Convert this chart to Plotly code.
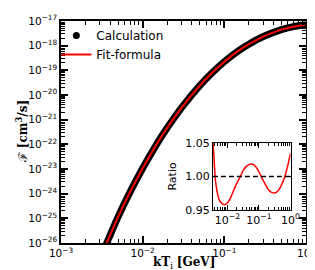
import plotly.graph_objects as go

# ---- data ----
kT_calc = [0.0035, 0.0038, 0.005, 0.007, 0.01, 0.015, 0.02, 0.03, 0.05, 0.07,
           0.1, 0.15, 0.2, 0.3, 0.5, 0.7, 1.0]
F_calc = [7.6e-27, 1.41e-26, 1.15e-25, 1.15e-24, 1.07e-23, 1.07e-22, 4.68e-22,
          3.09e-21, 2.40e-20, 7.59e-20, 2.24e-19, 6.31e-19, 1.15e-18, 2.34e-18,
          4.47e-18, 5.89e-18, 7.08e-18]
kT_fit = [0.0035, 0.0038, 0.005, 0.007, 0.01, 0.015, 0.02, 0.03, 0.05, 0.07,
          0.1, 0.15, 0.2, 0.3, 0.5, 0.7, 1.0]
F_fit = [7.6e-27, 1.41e-26, 1.15e-25, 1.15e-24, 1.07e-23, 1.07e-22, 4.68e-22,
         3.09e-21, 2.40e-20, 7.59e-20, 2.24e-19, 6.31e-19, 1.15e-18, 2.34e-18,
         4.47e-18, 5.89e-18, 7.08e-18]

kT_ratio = [0.00347, 0.0038, 0.00407, 0.00468, 0.00562, 0.00676, 0.00813, 0.01,
            0.0126, 0.0158, 0.02, 0.0257, 0.0316, 0.0398, 0.05, 0.0575, 0.0708,
            0.0891, 0.117, 0.158, 0.2, 0.251, 0.316, 0.398, 0.501, 0.661, 0.794, 1.0]
ratio = [1.052, 1.025, 1.000, 0.978, 0.964, 0.959, 0.9576, 0.960, 0.968, 0.979,
         0.990, 1.000, 1.009, 1.015, 1.018, 1.0186, 1.017, 1.011, 1.000, 0.988,
         0.980, 0.976, 0.975, 0.978, 0.986, 1.000, 1.014, 1.035]

x_ticks = [1e-3, 1e-2, 1e-1, 1e0]
x_ticktext = ["10<sup>−3</sup>", "10<sup>−2</sup>", "10<sup>−1</sup>", "10<sup>0</sup>"]
y_ticks = [10.0 ** e for e in range(-26, -16)]
y_ticktext = ["10<sup>−%d</sup>" % (-e) for e in range(-26, -16)]
ix_ticks = [1e-2, 1e-1, 1e0]
ix_ticktext = ["10<sup>−2</sup>", "10<sup>−1</sup>", "10<sup>0</sup>"]
iy_ticks = [0.95, 1.00, 1.05]
iy_ticktext = ["0.95", "1.00", "1.05"]
x_title = "<b>kT</b><sub>i</sub> <b>[GeV]</b>"
y_title = "ℱ <b>[cm<sup>3</sup>/s]</b>"

FONT = "DejaVu Sans"

def minor_vals(e0, e1):
    return [k * 10.0 ** e for e in range(e0, e1) for k in range(2, 10)]

fig = go.Figure()

# calculation (dense dots -> thick black band)
fig.add_trace(go.Scatter(x=kT_calc, y=F_calc, mode="lines",
                         line=dict(color="black", width=7, shape="spline"),
                         showlegend=False, hoverinfo="skip"))
fig.add_trace(go.Scatter(x=[None], y=[None], mode="markers", name="Calculation",
                         marker=dict(color="black", size=7)))
fig.add_trace(go.Scatter(x=kT_fit, y=F_fit, mode="lines", name="Fit-formula",
                         line=dict(color="red", width=2, shape="spline")))

# inset
fig.add_trace(go.Scatter(x=kT_ratio, y=ratio, mode="lines", xaxis="x2", yaxis="y2",
                         line=dict(color="red", width=1.5, shape="spline"),
                         showlegend=False))
fig.add_shape(type="line", xref="x2 domain", x0=0, x1=1, yref="y2", y0=1, y1=1,
              line=dict(color="black", width=1.5, dash="5px,3px"))

# axis titles
fig.add_annotation(text=x_title, xref="paper", yref="paper", x=0.5, y=-0.088,
                   xanchor="center", yanchor="middle", showarrow=False,
                   font=dict(family="DejaVu Serif", size=12, color="black"))
fig.add_annotation(text=y_title, xref="paper", yref="paper", x=-0.159, y=0.5,
                   xanchor="center", yanchor="middle", showarrow=False, textangle=-90,
                   font=dict(family="DejaVu Serif", size=12, color="black"))

axis_common = dict(showline=True, linecolor="black", linewidth=1.5, mirror="ticks",
                   ticks="inside", tickcolor="black", showgrid=False, zeroline=False,
                   automargin=False, tickfont=dict(size=10.5))

fig.update_layout(
    width=315, height=270,
    margin=dict(l=53, r=17, t=13, b=35),
    paper_bgcolor="white", plot_bgcolor="white",
    font=dict(family=FONT, size=11, color="black"),
    xaxis=dict(type="log", range=[-3, 0], tickvals=x_ticks, ticktext=x_ticktext,
               ticklen=7, tickwidth=1.5,
               minor=dict(tickvals=minor_vals(-3, 0), ticks="inside", ticklen=4,
                          tickcolor="black", tickwidth=1),
               **axis_common),
    yaxis=dict(type="log", range=[-26, -17], tickvals=y_ticks, ticktext=y_ticktext,
               ticklen=7, tickwidth=1.5,
               minor=dict(tickvals=minor_vals(-26, -17), ticks="inside", ticklen=4,
                          tickcolor="black", tickwidth=1),
               **axis_common),
    xaxis2=dict(type="log", range=[-2.46, 0], anchor="y2", domain=[0.62, 0.937],
                tickvals=ix_ticks, ticktext=ix_ticktext, ticklen=5, tickwidth=1,
                minor=dict(tickvals=minor_vals(-3, 0), ticks="inside", ticklen=2.5,
                           tickcolor="black", tickwidth=0.8),
                showline=True, linecolor="black", linewidth=1, mirror="ticks",
                ticks="inside", tickcolor="black", showgrid=False, zeroline=False,
                automargin=False, tickfont=dict(size=11)),
    yaxis2=dict(range=[0.95, 1.05], anchor="x2", domain=[0.15, 0.45],
                tickvals=iy_ticks, ticktext=iy_ticktext, ticklen=5, tickwidth=1,
                showline=True, linecolor="black", linewidth=1, mirror="ticks",
                ticks="inside", tickcolor="black", showgrid=False, zeroline=False,
                automargin=False, tickfont=dict(size=11),
                title=dict(text="Ratio", font=dict(size=11), standoff=6)),
    legend=dict(x=-0.019, y=1.0, xanchor="left", yanchor="top",
                bgcolor="rgba(0,0,0,0)", font=dict(size=12), tracegroupgap=0),
)

fig.write_html("out.html")
